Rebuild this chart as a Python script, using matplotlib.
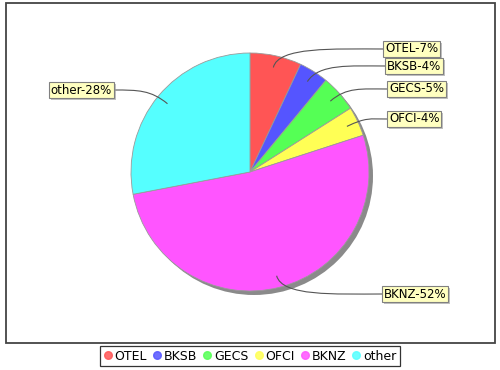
import matplotlib
matplotlib.use("Agg")
import matplotlib.pyplot as plt
from matplotlib.patches import Circle, Rectangle, PathPatch
from matplotlib.path import Path
from matplotlib.lines import Line2D
import matplotlib.patheffects as pe
import numpy as np

# Portfolio share by ticker
categories = ["OTEL", "BKSB", "GECS", "OFCI", "BKNZ", "other"]
shares = [7, 4, 5, 4, 52, 28]
colors = ["#FF5555", "#5555FF", "#55FF55", "#FFFF55", "#FF55FF", "#55FFFF"]

W, H = 500, 370
plt.rcParams["font.family"] = ["DejaVu Sans"]
fig = plt.figure(figsize=(W / 100, H / 100), dpi=100)
ax = fig.add_axes([0, 0, 1, 1])
ax.set_xlim(0, W)
ax.set_ylim(0, H)
ax.set_aspect("equal")
ax.axis("off")


def py(y):
    """Convert a top-down pixel row to data y."""
    return H - y


# plot frame
ax.add_patch(Rectangle((5.5, py(342.5)), 489.5, 340, fill=False,
                       ec="#444444", lw=1.3, zorder=1))

cx, cy, r = 250, py(172), 119

# drop shadow under the pie
ax.add_patch(Circle((cx + 4, cy - 4), r, fc="#8a8a8a", ec="none", zorder=2))

wedges, _ = ax.pie(shares, colors=colors, startangle=90, counterclock=False,
                   center=(cx, cy), radius=r, frame=True,
                   wedgeprops=dict(ec="#9a9a9a", lw=0.6))
for w in wedges:
    w.set_zorder(3)
ax.set_xlim(0, W)
ax.set_ylim(0, H)
ax.axis("off")

# label placement: (side, edge x, centre y in pixel rows)
label_pos = {
    "OTEL": ("R", 383, 49),
    "BKSB": ("R", 385, 66),
    "GECS": ("R", 387, 89),
    "OFCI": ("R", 387, 119),
    "BKNZ": ("R", 382, 294),
    "other": ("L", 114, 90),
}

total = float(sum(shares))
cum = 0.0
for name, val in zip(categories, shares):
    mid = (cum + val / 2) / total * 2 * np.pi  # clockwise from 12 o'clock
    cum += val
    ux, uy = np.sin(mid), np.cos(mid)
    lx, ly = cx + 0.9 * r * ux, cy + 0.9 * r * uy
    side, ex, ey = label_pos[name]
    ey = py(ey)
    c1 = (lx + 0.18 * r * ux, ly + 0.18 * r * uy)
    c2 = (ex + (lx - ex) * 0.45, ey)
    path = Path([(lx, ly), c1, c2, (ex, ey)],
                [Path.MOVETO, Path.CURVE4, Path.CURVE4, Path.CURVE4])
    ax.add_patch(PathPatch(path, fill=False, ec="#555555", lw=0.8, zorder=4))

    pct = round(val / total * 100)
    ha = "left" if side == "R" else "right"
    t = ax.text(ex + (2 if side == "R" else -2), ey, f"{name}-{pct}%",
                ha=ha, va="center", fontsize=8.5, color="black", zorder=6,
                bbox=dict(boxstyle="square,pad=0.15", fc="#FFFFC0",
                          ec="#808080", lw=0.8))
    t.get_bbox_patch().set_path_effects(
        [pe.SimplePatchShadow(offset=(1.5, -1.5), shadow_rgbFace="#999999",
                              alpha=0.6), pe.Normal()])

# legend
handles = [Line2D([], [], ls="none", marker="o", ms=5.5, mfc=c, mec=c,
                  alpha=0.85)
           for c in colors]
leg = fig.legend(handles, categories, loc="center",
                 bbox_to_anchor=(250 / W, 1 - 356 / H), ncol=6, fontsize=9,
                 frameon=True, fancybox=False, edgecolor="black",
                 handlelength=0.7, handletextpad=0.2, columnspacing=0.45,
                 borderpad=0.25, borderaxespad=0)
leg.get_frame().set_linewidth(0.9)

fig.savefig("out.png", dpi=100)
